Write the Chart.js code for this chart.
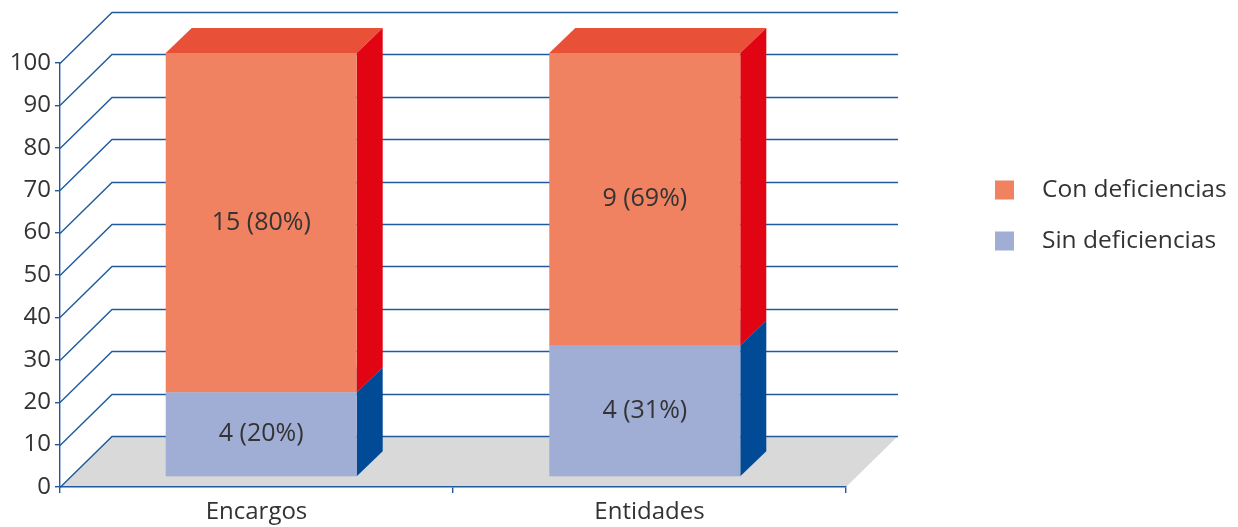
<!DOCTYPE html>
<html>
<head>
<meta charset="utf-8">
<script src="https://cdn.jsdelivr.net/npm/chart.js@4/dist/chart.umd.min.js"></script>
<style>
  html, body { margin: 0; background: #fff; }
</style>
</head>
<body>
<canvas id="chart" width="1238" height="527"></canvas>
<script>
// datos
const categories = ["Encargos", "Entidades"];
const sinPct = [20, 31];
const conPct = [80, 69];
const sinCount = [4, 4];
const conCount = [15, 9];
const seriesNames = ["Sin deficiencias", "Con deficiencias"];
const yMax = 100;
const yStep = 10;

// colores: cara frontal, lateral y superior de cada serie
const frontColors = ["#a0aed5", "#f08262"];
const sideColors = ["#004a96", "#e10514"];
const topColors = ["#8595c6", "#e85037"];
const gridBlue = "#1f5a9e";
const floorGray = "#d9d9d9";
const textColor = "#333333";
const fontFamily = "'Open Sans', sans-serif";

// proyección oblicua
const WALL = { dx: 52, dy: -51 };   // fondo del gráfico
const BAR_FRONT_DY = -10;           // la cara frontal de la barra está algo hundida
const BAR_DEPTH = { dx: 26, dy: -25 };
const SPREAD = 0.976;               // las barras se acercan un poco al centro

const wallPlugin = {
  id: "wall3d",
  beforeDraw(chart) {
    const { ctx, chartArea: a, scales } = chart;
    const y = scales.y;
    ctx.save();
    // suelo
    ctx.fillStyle = floorGray;
    ctx.beginPath();
    ctx.moveTo(a.left, a.bottom);
    ctx.lineTo(a.left + WALL.dx, a.bottom + WALL.dy);
    ctx.lineTo(a.right + WALL.dx, a.bottom + WALL.dy);
    ctx.lineTo(a.right, a.bottom);
    ctx.closePath();
    ctx.fill();
    // líneas de la pared lateral y del fondo
    ctx.strokeStyle = gridBlue;
    ctx.lineWidth = 1.4;
    y.ticks.forEach((t) => {
      const py = Math.round(y.getPixelForValue(t.value)) + 0.5;
      ctx.beginPath();
      ctx.moveTo(a.left, py);
      ctx.lineTo(a.left + WALL.dx, py + WALL.dy);
      ctx.lineTo(a.right + WALL.dx, py + WALL.dy);
      ctx.stroke();
    });
    ctx.restore();
  },
  beforeDatasetDraw() {
    // las barras se dibujan en 3D más abajo
    return false;
  },
  afterDatasetsDraw(chart) {
    const { ctx, chartArea: a } = chart;
    const mid = (a.left + a.right) / 2;
    ctx.save();
    chart.data.datasets.forEach((ds, di) => {
      const meta = chart.getDatasetMeta(di);
      meta.data.forEach((bar, i) => {
        const p = bar.getProps(["x", "y", "base", "width"], true);
        const cx = mid + (p.x - mid) * SPREAD;
        const x0 = cx - p.width / 2;
        const x1 = cx + p.width / 2;
        const top = p.y + BAR_FRONT_DY;
        const bot = p.base + BAR_FRONT_DY;

        // cara superior
        ctx.fillStyle = topColors[di];
        ctx.beginPath();
        ctx.moveTo(x0, top);
        ctx.lineTo(x0 + BAR_DEPTH.dx, top + BAR_DEPTH.dy);
        ctx.lineTo(x1 + BAR_DEPTH.dx, top + BAR_DEPTH.dy);
        ctx.lineTo(x1, top);
        ctx.closePath();
        ctx.fill();

        // cara lateral
        ctx.fillStyle = sideColors[di];
        ctx.beginPath();
        ctx.moveTo(x1, top);
        ctx.lineTo(x1 + BAR_DEPTH.dx, top + BAR_DEPTH.dy);
        ctx.lineTo(x1 + BAR_DEPTH.dx, bot + BAR_DEPTH.dy);
        ctx.lineTo(x1, bot);
        ctx.closePath();
        ctx.fill();

        // cara frontal
        ctx.fillStyle = frontColors[di];
        ctx.fillRect(x0, top, x1 - x0, bot - top);

        // etiqueta
        const counts = di === 0 ? sinCount : conCount;
        ctx.fillStyle = textColor;
        ctx.font = `25px ${fontFamily}`;
        ctx.textAlign = "center";
        ctx.textBaseline = "middle";
        ctx.fillText(`${counts[i]} (${ds.data[i]}%)`, cx, (top + bot) / 2);
      });
    });
    ctx.restore();
  },
  afterDraw(chart) {
    // leyenda, con la serie superior primero
    const { ctx, chartArea: a } = chart;
    ctx.save();
    ctx.font = `24.5px ${fontFamily}`;
    ctx.textAlign = "left";
    ctx.textBaseline = "middle";
    [1, 0].forEach((di, k) => {
      const cy = 190 + k * 51;
      ctx.fillStyle = frontColors[di];
      ctx.fillRect(a.right + 149, cy - 9.5, 19, 19);
      ctx.fillStyle = textColor;
      ctx.fillText(seriesNames[di], a.right + 196, cy);
    });
    ctx.restore();
  },
};

Chart.defaults.font.family = fontFamily;
Chart.defaults.font.size = 24;
Chart.defaults.color = textColor;

new Chart(document.getElementById("chart"), {
  type: "bar",
  data: {
    labels: categories,
    datasets: [
      { label: seriesNames[0], data: sinPct, backgroundColor: frontColors[0] },
      { label: seriesNames[1], data: conPct, backgroundColor: frontColors[1] },
    ],
  },
  options: {
    responsive: false,
    animation: false,
    events: [],
    categoryPercentage: 0.486,
    barPercentage: 1,
    layout: { padding: { top: 63, right: 392, left: 0, bottom: 0 } },
    plugins: { legend: { display: false }, tooltip: { enabled: false } },
    scales: {
      x: {
        stacked: true,
        grid: { display: true, drawOnChartArea: false, tickLength: 6, color: gridBlue, lineWidth: 1.4, offset: true },
        border: { color: gridBlue, width: 1.4 },
        ticks: { padding: 5 },
        afterFit: (s) => { s.height = 40; },
      },
      y: {
        stacked: true,
        min: 0,
        max: yMax,
        grid: { display: true, drawOnChartArea: false, tickLength: 5, color: gridBlue, lineWidth: 1.4 },
        border: { color: gridBlue, width: 1.4 },
        ticks: { stepSize: yStep, padding: 4 },
        afterFit: (s) => { s.width = 60; },
      },
    },
  },
  plugins: [wallPlugin],
});
</script>
</body>
</html>
